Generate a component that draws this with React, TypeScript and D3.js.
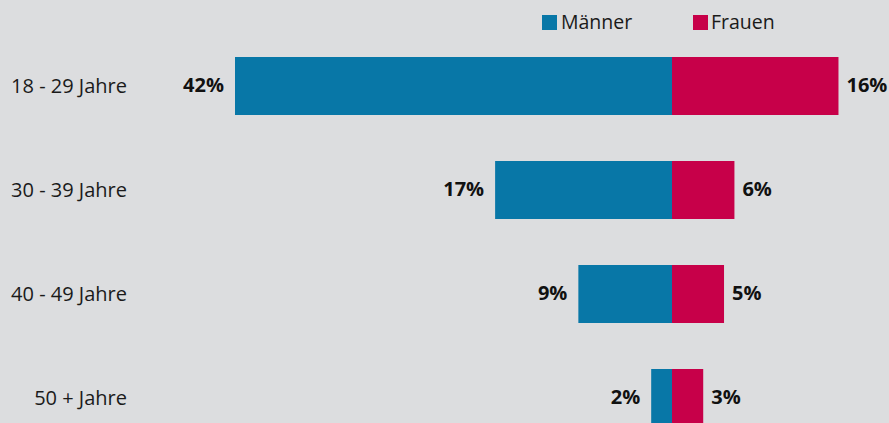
import React from "react";
import * as d3 from "d3";

const categories = ["18 - 29 Jahre", "30 - 39 Jahre", "40 - 49 Jahre", "50 + Jahre"];
const maenner = [42, 17, 9, 2];
const frauen = [16, 6, 5, 3];
const seriesNames = ["Männer", "Frauen"];

const W = 889;
const H = 423;
const BLUE = "#0877a7";
const RED = "#c70049";
const BG = "#dcdddf";
const FONT = "'Open Sans', 'Noto Sans', sans-serif";

export default function App() {
  const cx = 672;
  const x = d3.scaleLinear().domain([0, 42]).range([0, 437]);
  const bh = 58;
  const step = 104;
  const yPos = (i: number) => 57 + i * step;

  return (
    <svg width={W} height={H} style={{ display: "block", position: "absolute", left: 0, top: 0 }}>
      <rect x={0} y={0} width={W} height={H} fill={BG} />
      <g fontFamily={FONT} fontSize={19.5} fill="#1a1a1a">
        <rect x={542} y={15} width={15} height={15} fill={BLUE} />
        <text x={561} y={29}>{seriesNames[0]}</text>
        <rect x={693} y={15} width={15} height={15} fill={RED} />
        <text x={711} y={29}>{seriesNames[1]}</text>
      </g>
      {categories.map((c, i) => {
        const top = yPos(i);
        const mid = top + bh / 2;
        const wm = x(maenner[i]);
        const wf = x(frauen[i]);
        return (
          <g key={c}>
            <text x={127} y={mid} dy="0.35em" textAnchor="end" fontFamily={FONT} fontSize={20} fill="#1a1a1a">{c}</text>
            <rect x={cx - wm} y={top} width={wm} height={bh} fill={BLUE} />
            <rect x={cx} y={top} width={wf} height={bh} fill={RED} />
            <text x={cx - wm - 11} y={mid - 1} dy="0.35em" textAnchor="end" fontFamily={FONT} fontSize={20} fontWeight="bold" fill="#111">{maenner[i]}%</text>
            <text x={cx + wf + 8} y={mid - 1} dy="0.35em" textAnchor="start" fontFamily={FONT} fontSize={20} fontWeight="bold" fill="#111">{frauen[i]}%</text>
          </g>
        );
      })}
    </svg>
  );
}
